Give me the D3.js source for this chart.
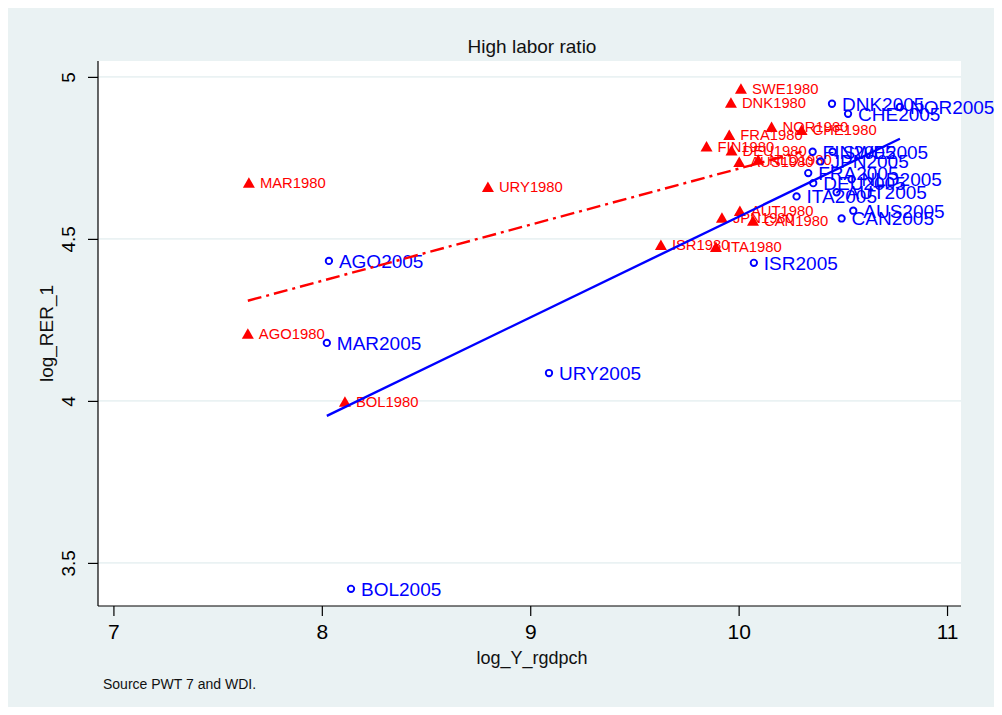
<!DOCTYPE html>
<html>
<head>
<meta charset="utf-8">
<script src="https://cdn.jsdelivr.net/npm/d3@7"></script>
<style>
  html, body { margin: 0; padding: 0; background: #ffffff; }
  svg { display: block; font-family: "Liberation Sans", Arial, sans-serif; }
</style>
</head>
<body>
<svg id="chart" width="1002" height="715"></svg>
<script>
// Countries observed in 1980 (red triangles)
const codes1980 = ["SWE","DNK","NOR","CHE","FRA","FIN","DEU","AUS","NLD","JPN","AUT","CAN","ISR","ITA","URY","MAR","AGO","BOL"];
const gdp1980   = [10.011, 9.963, 10.158, 10.302, 9.955, 9.846, 9.966, 10.003, 10.094, 9.920, 10.006, 10.069, 9.627, 9.891, 8.797, 7.650, 7.645, 8.111];
const rer1980   = [4.963, 4.920, 4.845, 4.836, 4.821, 4.785, 4.773, 4.737, 4.744, 4.565, 4.586, 4.556, 4.481, 4.475, 4.660, 4.673, 4.207, 3.997];

// Countries observed in 2005 (blue hollow circles)
const codes2005 = ["DNK","NOR","CHE","FIN","SWE","JPN","FRA","DEU","NLD","AUT","ITA","AUS","CAN","ISR","URY","MAR","AGO","BOL"];
const gdp2005   = [10.448, 10.774, 10.525, 10.355, 10.451, 10.393, 10.334, 10.358, 10.542, 10.470, 10.278, 10.550, 10.494, 10.073, 9.090, 8.024, 8.034, 8.140];
const rer2005   = [4.917, 4.907, 4.886, 4.769, 4.769, 4.739, 4.703, 4.672, 4.684, 4.644, 4.631, 4.587, 4.563, 4.426, 4.086, 4.179, 4.432, 3.420];

// Linear fit end points for each year
const fit1980X = [7.645, 10.302];
const fit1980Y = [4.309, 4.769];
const fit2005X = [8.024, 10.774];
const fit2005Y = [3.954, 4.809];

// Axis ticks and texts
const xTicks = [7, 8, 9, 10, 11];
const yTicks = [3.5, 4, 4.5, 5];
const yTickLabels = ["3.5", "4", "4.5", "5"];
const titleText = "High labor ratio";
const xTitle = "log_Y_rgdpch";
const yTitle = "log_RER_1";
const noteText = "Source PWT 7 and WDI.";

const svg = d3.select("#chart");
const W = 1002, H = 715;
const plot = { left: 98, right: 961, top: 61, bottom: 606 };

// outer graph region
svg.append("rect").attr("x", 8).attr("y", 8).attr("width", W - 16).attr("height", H - 16)
  .attr("fill", "#eaf2f3");
// plot region
svg.append("rect").attr("x", plot.left).attr("y", plot.top)
  .attr("width", plot.right - plot.left).attr("height", plot.bottom - plot.top)
  .attr("fill", "#ffffff");

const x = d3.scaleLinear().domain([6.926, 11.067]).range([plot.left, plot.right]);
const y = d3.scaleLinear().domain([3.367, 5.049]).range([plot.bottom, plot.top]);

// horizontal grid lines
svg.append("g").selectAll("line").data(yTicks).join("line")
  .attr("x1", plot.left).attr("x2", plot.right)
  .attr("y1", d => y(d)).attr("y2", d => y(d))
  .attr("stroke", "#eaf2f3").attr("stroke-width", 1.6);

// y axis
const yAxis = svg.append("g").attr("transform", `translate(${plot.left},0)`)
  .call(d3.axisLeft(y).tickValues(yTicks).tickSize(10).tickPadding(4)
    .tickFormat((d, i) => yTickLabels[i]));
yAxis.select(".domain").attr("d", `M0,${plot.top}V${plot.bottom}`).attr("stroke", "#000").attr("stroke-width", 1.2);
yAxis.selectAll(".tick line").attr("stroke", "#000").attr("stroke-width", 1.2);
yAxis.selectAll(".tick text")
  .attr("x", null).attr("dy", null)
  .attr("text-anchor", "middle")
  .attr("transform", "translate(-30,0) rotate(-90)")
  .attr("dy", "0.35em")
  .attr("font-size", 19).attr("fill", "#000");

// x axis
const xAxis = svg.append("g").attr("transform", `translate(0,${plot.bottom})`)
  .call(d3.axisBottom(x).tickValues(xTicks).tickSize(10).tickPadding(8).tickFormat(d3.format("d")));
xAxis.select(".domain").attr("d", `M${plot.left},0H${plot.right}`).attr("stroke", "#000").attr("stroke-width", 1.2);
xAxis.selectAll(".tick line").attr("stroke", "#000").attr("stroke-width", 1.2);
xAxis.selectAll(".tick text").attr("font-size", 21).attr("fill", "#000");

// titles
svg.append("text").attr("x", 532).attr("y", 53).attr("text-anchor", "middle")
  .attr("font-size", 19).attr("fill", "#111").text(titleText);
svg.append("text").attr("x", 532).attr("y", 664).attr("text-anchor", "middle")
  .attr("font-size", 18).attr("fill", "#111").text(xTitle);
svg.append("text").attr("transform", `translate(53,${(plot.top + plot.bottom) / 2}) rotate(-90)`)
  .attr("text-anchor", "middle").attr("font-size", 19).attr("fill", "#111").text(yTitle);
svg.append("text").attr("x", 103).attr("y", 689).attr("font-size", 14).attr("fill", "#111").text(noteText);

const pts1980 = codes1980.map((c, i) => ({ label: c + "1980", gx: gdp1980[i], r: rer1980[i] }));
const pts2005 = codes2005.map((c, i) => ({ label: c + "2005", gx: gdp2005[i], r: rer2005[i] }));

const red = "#ff0000", blue = "#0000ff";

// 1980 markers and labels
const triangle = "M0,-5.5L6,5L-6,5Z";
const g80 = svg.append("g");
g80.selectAll("path").data(pts1980).join("path")
  .attr("d", triangle)
  .attr("transform", d => `translate(${x(d.gx)},${y(d.r)})`)
  .attr("fill", red);
g80.selectAll("text").data(pts1980).join("text")
  .attr("x", d => x(d.gx) + 11).attr("y", d => y(d.r)).attr("dy", "0.36em")
  .attr("font-size", 14.8).attr("fill", red).text(d => d.label);

// 2005 markers and labels
const g05 = svg.append("g");
g05.selectAll("circle").data(pts2005).join("circle")
  .attr("cx", d => x(d.gx)).attr("cy", d => y(d.r)).attr("r", 3.2)
  .attr("fill", "none").attr("stroke", blue).attr("stroke-width", 1.9);
g05.selectAll("text").data(pts2005).join("text")
  .attr("x", d => x(d.gx) + 10).attr("y", d => y(d.r)).attr("dy", "0.36em")
  .attr("font-size", 19).attr("fill", blue).text(d => d.label);

// fitted lines
const line = d3.line().x(d => x(d[0])).y(d => y(d[1]));
svg.append("path").datum(d3.zip(fit1980X, fit1980Y)).attr("d", line)
  .attr("fill", "none").attr("stroke", red).attr("stroke-width", 2.4)
  .attr("stroke-dasharray", "14,5,3,5");
svg.append("path").datum(d3.zip(fit2005X, fit2005Y)).attr("d", line)
  .attr("fill", "none").attr("stroke", blue).attr("stroke-width", 2.4);
</script>
</body>
</html>
